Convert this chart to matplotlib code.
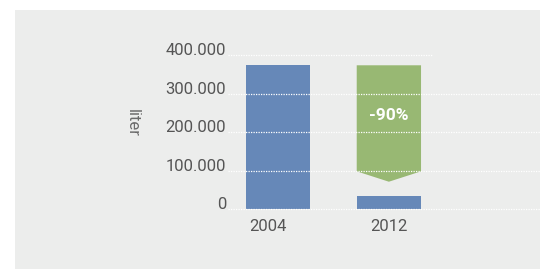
import matplotlib.pyplot as plt
from matplotlib.patches import Rectangle, Polygon
import matplotlib.transforms as mtransforms

plt.rcParams['font.family'] = ['Roboto', 'DejaVu Sans']

# data
years = ['2004', '2012']
liters = [374000, 34000]
change_label = '-90%'
arrow_body_end = 98000   # where the green arrow's straight part ends
arrow_tip = 71000        # point of the green arrow
yticks = [0, 100000, 200000, 300000, 400000]
ytick_labels = ['0', '100.000', '200.000', '300.000', '400.000']

blue = '#6688b8'
green = '#98b873'
panel = '#ecedec'
txt = '#555555'

W, H = 545, 269
fig = plt.figure(figsize=(W / 100, H / 100), dpi=100)
fig.patch.set_facecolor('white')

# gray panel behind everything
fig.patches.append(Rectangle((15 / W, 0), (540 - 15) / W, (H - 10) / H,
                             transform=fig.transFigure, facecolor=panel,
                             edgecolor='none', zorder=-10))

ax = fig.add_axes([228 / W, (H - 209) / H, (540 - 228) / W, (209 - 55.3) / H])
ax.set_facecolor('none')

x = list(range(len(years)))
bw = 0.58
ax.bar(x, liters, width=bw, color=blue, zorder=2)

# green reduction arrow over the 2012 bar, from the 2004 level down
x0 = x[1]
arrow = Polygon([(x0 - bw / 2, liters[0]), (x0 + bw / 2, liters[0]),
                 (x0 + bw / 2, arrow_body_end), (x0, arrow_tip),
                 (x0 - bw / 2, arrow_body_end)],
                closed=True, facecolor=green, edgecolor='none', zorder=2)
ax.add_patch(arrow)
ax.text(x0, 244000, change_label, ha='center', va='center',
        color='white', fontsize=12.5, fontweight='bold', zorder=4)

ax.set_xlim(-0.451, 2.363)
ax.set_ylim(0, 400000)

# dotted white grid lines on top of the bars
for t in yticks:
    xmax = 1.39 if t == yticks[-1] else 2.363
    ax.hlines(t, -0.451, xmax, colors='white', linestyles=(0, (1, 1)),
              linewidth=0.9, zorder=3, clip_on=False)

ax.set_yticks(yticks)
ax.set_yticklabels(ytick_labels)
ax.set_xticks(x)
ax.set_xticklabels(years)
ax.tick_params(axis='both', length=0, labelsize=12, labelcolor=txt)
ax.tick_params(axis='y', pad=1.4)
ax.tick_params(axis='x', pad=7)
for lab in ax.get_yticklabels():
    lab.set_verticalalignment('baseline')
# first year label sits a bit left of its bar in the original
first = ax.get_xticklabels()[0]
first.set_transform(first.get_transform() +
                    mtransforms.ScaledTranslation(-10 / 100, 0, fig.dpi_scale_trans))

for s in ax.spines.values():
    s.set_visible(False)

ax.set_ylabel('liter', fontsize=12, color='#6b6b6b')
ax.yaxis.label.set(rotation=270, va='center', ha='center', rotation_mode='default')
ax.yaxis.set_label_coords((132 - 228) / 312, (209 - 123.3) / 153.7)

fig.savefig('out.png', dpi=100, facecolor='white')
